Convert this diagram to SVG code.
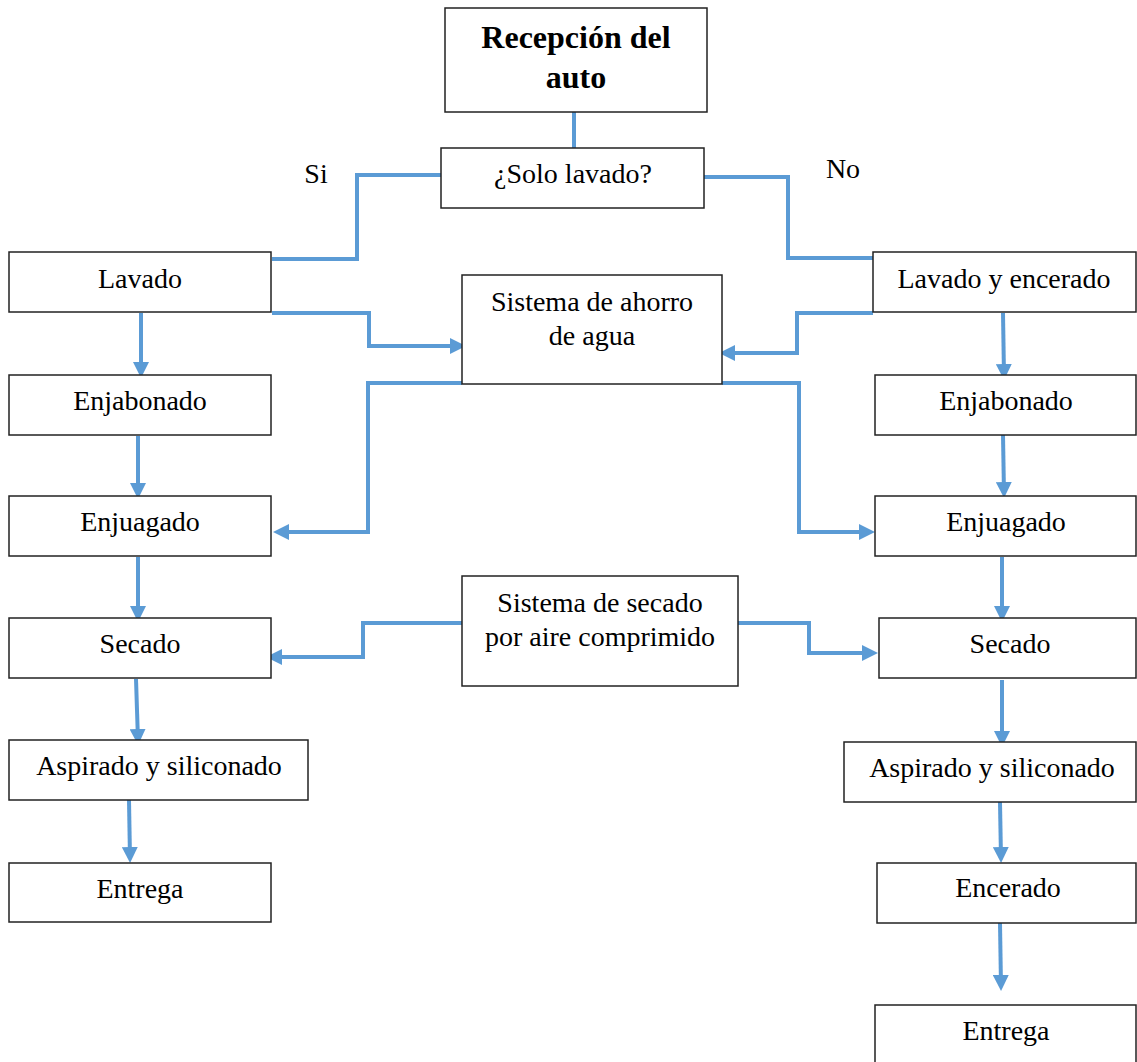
<svg xmlns="http://www.w3.org/2000/svg" width="1137" height="1062" viewBox="0 0 1137 1062">
<defs>
<style>
.box{fill:#fff;stroke:#222;stroke-width:1.5}
.t{font-family:"Liberation Serif","Times New Roman",serif;font-size:28px;fill:#000;text-anchor:middle}
.b{font-weight:bold;font-size:32px}
.c{fill:none;stroke:#5B9BD5;stroke-width:4}
.a{marker-end:url(#ah)}
</style>
<marker id="ah" markerUnits="userSpaceOnUse" markerWidth="16" markerHeight="16" refX="12" refY="8" orient="auto">
<path d="M0,0 L16,8 L0,16 z" fill="#5B9BD5"/>
</marker>
</defs>
<rect width="1137" height="1062" fill="#fff"/>

<g id="connectors">
<path class="c" d="M574,94 V148"/>
<path class="c" d="M441,175 H357 V259 H272"/>
<path class="c" d="M704,177 H788 V258 H873"/>
<path class="c a" d="M272,313 H369 V346 H462"/>
<path class="c a" d="M873,313 H797 V353 H723"/>
<path class="c a" d="M462,383 H368 V532 H277"/>
<path class="c a" d="M722,383 H799 V532 H871"/>
<path class="c a" d="M462,623 H363 V657 H270"/>
<path class="c a" d="M738,623 H809 V653 H874"/>
<path class="c a" d="M141,313 L141,374"/>
<path class="c a" d="M138,436 L138,495"/>
<path class="c a" d="M138,557 L138,618"/>
<path class="c a" d="M136,679 L138,741"/>
<path class="c a" d="M129,800 L130,859"/>
<path class="c a" d="M1003,313 L1004,376"/>
<path class="c a" d="M1003,435 L1004,494"/>
<path class="c a" d="M1002,557 L1002,618"/>
<path class="c a" d="M1002,680 L1002,743"/>
<path class="c a" d="M1000,802 L1001,859"/>
<path class="c a" d="M1000,923 L1001,987"/>
</g>

<g id="recepcion"><rect class="box" x="445" y="8" width="262" height="104"/>
<text class="t b" x="576" y="48">Recepción del</text><text class="t b" x="576" y="88">auto</text></g>
<g id="solo-lavado"><rect class="box" x="441" y="148" width="263" height="60"/>
<text class="t" x="573" y="183">¿Solo lavado?</text></g>
<g id="label-si"><text class="t" x="316" y="183">Si</text></g>
<g id="label-no"><text class="t" x="843" y="178">No</text></g>

<g id="ahorro"><rect class="box" x="462" y="275" width="260" height="109"/>
<text class="t" x="592" y="311">Sistema de ahorro</text><text class="t" x="592" y="345">de agua</text></g>
<g id="secado-sistema"><rect class="box" x="462" y="576" width="276" height="110"/>
<text class="t" x="600" y="612">Sistema de secado</text><text class="t" x="600" y="646">por aire comprimido</text></g>

<g id="l-lavado"><rect class="box" x="9" y="252" width="262" height="60"/><text class="t" x="140" y="288">Lavado</text></g>
<g id="l-enjabonado"><rect class="box" x="9" y="375" width="262" height="60"/><text class="t" x="140" y="410">Enjabonado</text></g>
<g id="l-enjuagado"><rect class="box" x="9" y="496" width="262" height="60"/><text class="t" x="140" y="531">Enjuagado</text></g>
<g id="l-secado"><rect class="box" x="9" y="618" width="262" height="60"/><text class="t" x="140" y="653">Secado</text></g>
<g id="l-aspirado"><rect class="box" x="9" y="740" width="299" height="60"/><text class="t" x="159" y="775">Aspirado y siliconado</text></g>
<g id="l-entrega"><rect class="box" x="9" y="863" width="262" height="59"/><text class="t" x="140" y="898">Entrega</text></g>

<g id="r-lavado"><rect class="box" x="873" y="252" width="263" height="60"/><text class="t" x="1004" y="288">Lavado y encerado</text></g>
<g id="r-enjabonado"><rect class="box" x="875" y="375" width="261" height="60"/><text class="t" x="1006" y="410">Enjabonado</text></g>
<g id="r-enjuagado"><rect class="box" x="875" y="496" width="261" height="60"/><text class="t" x="1006" y="531">Enjuagado</text></g>
<g id="r-secado"><rect class="box" x="879" y="618" width="257" height="60"/><text class="t" x="1010" y="653">Secado</text></g>
<g id="r-aspirado"><rect class="box" x="844" y="742" width="292" height="60"/><text class="t" x="992" y="777">Aspirado y siliconado</text></g>
<g id="r-encerado"><rect class="box" x="877" y="863" width="259" height="60"/><text class="t" x="1008" y="897">Encerado</text></g>
<g id="r-entrega"><rect class="box" x="875" y="1005" width="261" height="62"/><text class="t" x="1006" y="1040">Entrega</text></g>
</svg>
